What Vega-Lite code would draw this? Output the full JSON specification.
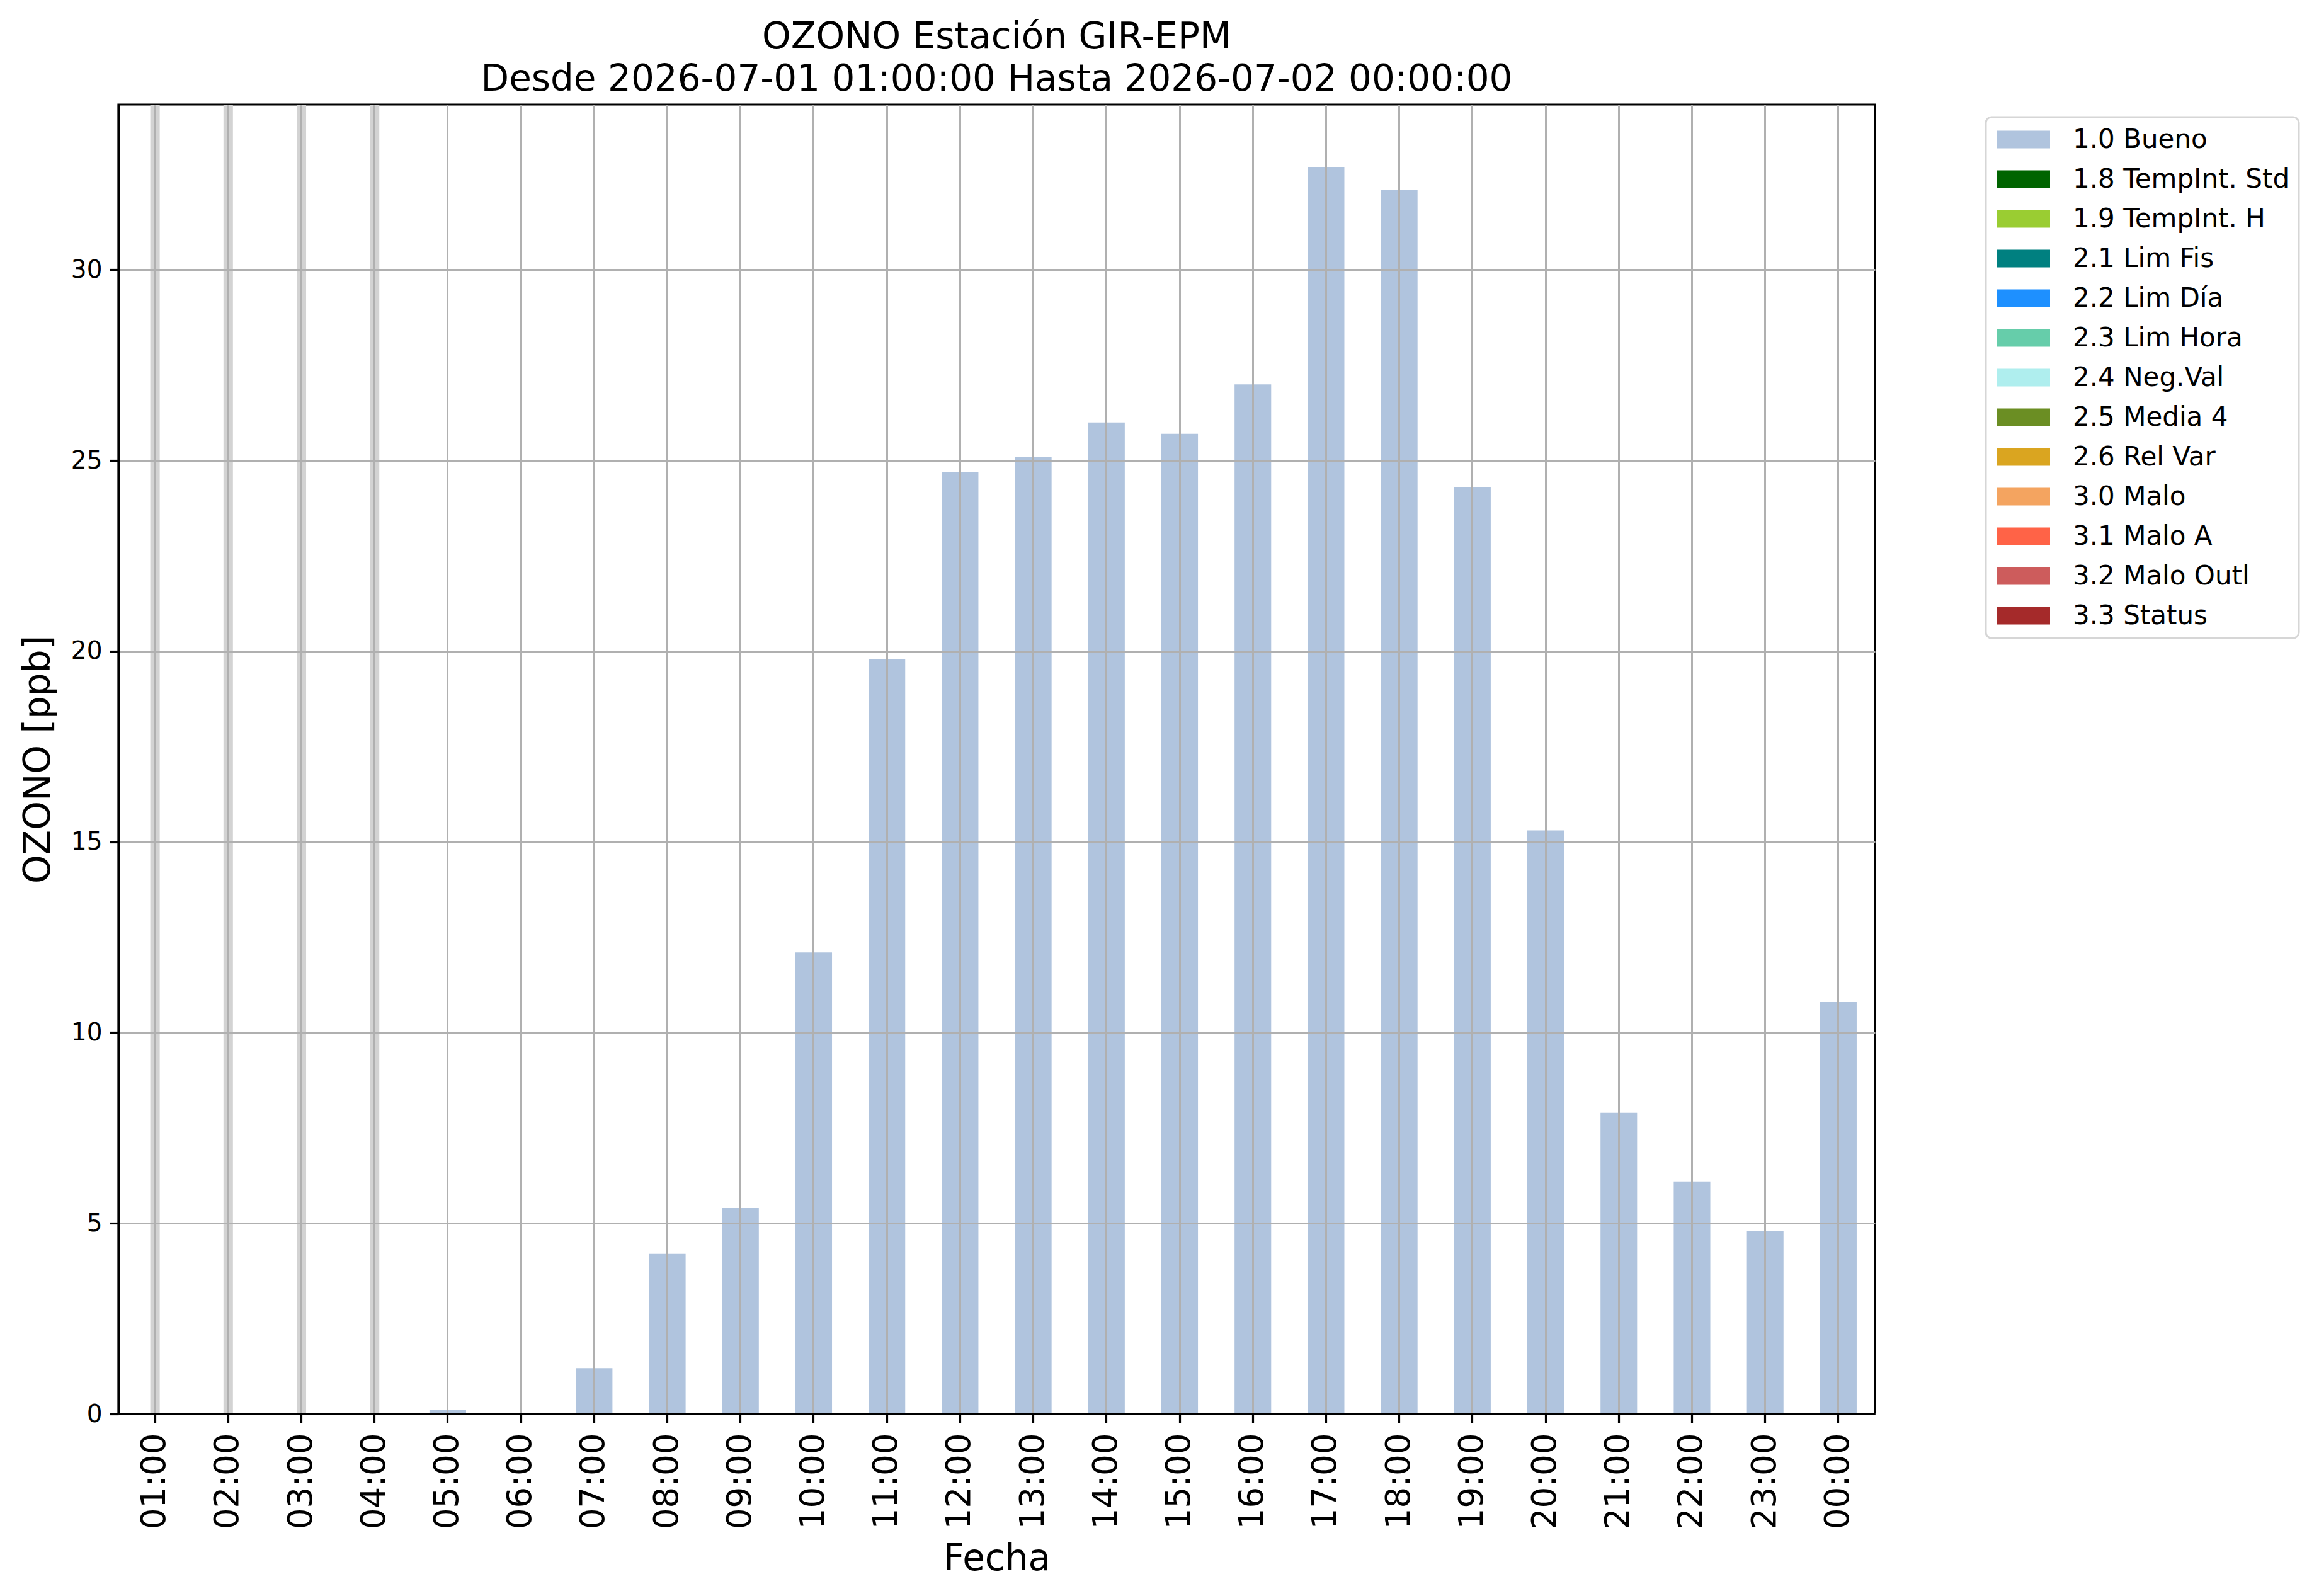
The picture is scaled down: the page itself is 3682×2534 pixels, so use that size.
{
  "$schema": "https://vega.github.io/schema/vega-lite/v6.json",
  "width": 2789,
  "height": 2079,
  "autosize": {"type": "none"},
  "padding": {"left": 188, "top": 166, "right": 705, "bottom": 289},
  "background": "white",
  "title": {
    "text": ["OZONO Estación GIR-EPM", "Desde 2026-07-01 01:00:00 Hasta 2026-07-02 00:00:00"],
    "font": "DejaVu Sans",
    "fontSize": 58,
    "fontWeight": "normal",
    "lineHeight": 67,
    "offset": 3,
    "anchor": "middle",
    "frame": "group",
    "color": "black"
  },
  "config": {
    "view": {"stroke": "black", "strokeWidth": 3.2},
    "font": "DejaVu Sans",
    "legend": {"strokeWidth": 3},
    "axis": {
      "zindex": 1,
      "domainColor": "black",
      "domainWidth": 3.2,
      "tickColor": "black",
      "tickWidth": 3.2,
      "tickSize": 14,
      "gridColor": "#b0b0b0",
      "gridWidth": 3,
      "gridOpacity": 1,
      "labelColor": "black",
      "titleColor": "black",
      "labelFont": "DejaVu Sans",
      "titleFont": "DejaVu Sans",
      "titleFontWeight": "normal"
    }
  },
  "data": {
    "values": [
      {"hora": "01:00", "ozono": null, "bandera": "1.0 Bueno"},
      {"hora": "02:00", "ozono": null, "bandera": "1.0 Bueno"},
      {"hora": "03:00", "ozono": null, "bandera": "1.0 Bueno"},
      {"hora": "04:00", "ozono": null, "bandera": "1.0 Bueno"},
      {"hora": "05:00", "ozono": 0.1, "bandera": "1.0 Bueno"},
      {"hora": "06:00", "ozono": 0.0, "bandera": "1.0 Bueno"},
      {"hora": "07:00", "ozono": 1.2, "bandera": "1.0 Bueno"},
      {"hora": "08:00", "ozono": 4.2, "bandera": "1.0 Bueno"},
      {"hora": "09:00", "ozono": 5.4, "bandera": "1.0 Bueno"},
      {"hora": "10:00", "ozono": 12.1, "bandera": "1.0 Bueno"},
      {"hora": "11:00", "ozono": 19.8, "bandera": "1.0 Bueno"},
      {"hora": "12:00", "ozono": 24.7, "bandera": "1.0 Bueno"},
      {"hora": "13:00", "ozono": 25.1, "bandera": "1.0 Bueno"},
      {"hora": "14:00", "ozono": 26.0, "bandera": "1.0 Bueno"},
      {"hora": "15:00", "ozono": 25.7, "bandera": "1.0 Bueno"},
      {"hora": "16:00", "ozono": 27.0, "bandera": "1.0 Bueno"},
      {"hora": "17:00", "ozono": 32.7, "bandera": "1.0 Bueno"},
      {"hora": "18:00", "ozono": 32.1, "bandera": "1.0 Bueno"},
      {"hora": "19:00", "ozono": 24.3, "bandera": "1.0 Bueno"},
      {"hora": "20:00", "ozono": 15.3, "bandera": "1.0 Bueno"},
      {"hora": "21:00", "ozono": 7.9, "bandera": "1.0 Bueno"},
      {"hora": "22:00", "ozono": 6.1, "bandera": "1.0 Bueno"},
      {"hora": "23:00", "ozono": 4.8, "bandera": "1.0 Bueno"},
      {"hora": "00:00", "ozono": 10.8, "bandera": "1.0 Bueno"}
    ]
  },
  "encoding": {
    "x": {
      "field": "hora",
      "type": "nominal",
      "scale": {
        "domain": ["01:00","02:00","03:00","04:00","05:00","06:00","07:00","08:00","09:00","10:00","11:00","12:00","13:00","14:00","15:00","16:00","17:00","18:00","19:00","20:00","21:00","22:00","23:00","00:00"],
        "paddingInner": 0.5,
        "paddingOuter": 0.25
      },
      "axis": {
        "title": "Fecha",
        "titleFontSize": 58,
        "titlePadding": 19,
        "labelFontSize": 53,
        "labelAngle": 270,
        "labelPadding": 16,
        "grid": true,
        "zindex": 1
      }
    }
  },
  "layer": [
    {
      "transform": [{"filter": "datum.ozono === null"}],
      "mark": {"type": "rule", "color": "#d3d3d3", "strokeWidth": 15}
    },
    {
      "mark": {"type": "bar"},
      "encoding": {
        "y": {
          "field": "ozono",
          "type": "quantitative",
          "scale": {"domain": [0, 34.335], "nice": false, "zero": true},
          "axis": {
            "title": "OZONO [ppb]",
            "titleFontSize": 58,
            "titlePadding": 22,
            "labelFontSize": 39,
            "labelPadding": 12,
            "values": [0, 5, 10, 15, 20, 25, 30],
            "grid": true,
            "zindex": 1
          }
        },
        "color": {
          "field": "bandera",
          "type": "nominal",
          "scale": {
            "domain": ["1.0 Bueno", "1.8 TempInt. Std", "1.9 TempInt. H", "2.1 Lim Fis", "2.2 Lim Día", "2.3 Lim Hora", "2.4 Neg.Val", "2.5 Media 4", "2.6 Rel Var", "3.0 Malo", "3.1 Malo A", "3.2 Malo Outl", "3.3 Status"],
            "range": ["#b0c4de", "#006400", "#9acd32", "#008080", "#1e90ff", "#66cdaa", "#afeeee", "#6b8e23", "#daa520", "#f4a460", "#ff6347", "#cd5c5c", "#a52a2a"]
          },
          "legend": {
            "title": null,
            "orient": "none",
            "legendX": 2965,
            "legendY": 20,
            "padding": 14.5,
            "strokeColor": "#d6d6d6",
            "cornerRadius": 9,
            "fillColor": "white",
            "symbolType": "M-3,-1H3V1H-3Z",
            "symbolSize": 784,
            "symbolStrokeWidth": 0,
            "symbolOpacity": 1,
            "symbolOffset": 24.5,
            "labelOffset": 57,
            "labelFontSize": 42,
            "labelFont": "DejaVu Sans",
            "labelColor": "black",
            "rowPadding": 21,
            "labelLimit": 1000
          }
        }
      }
    }
  ]
}
